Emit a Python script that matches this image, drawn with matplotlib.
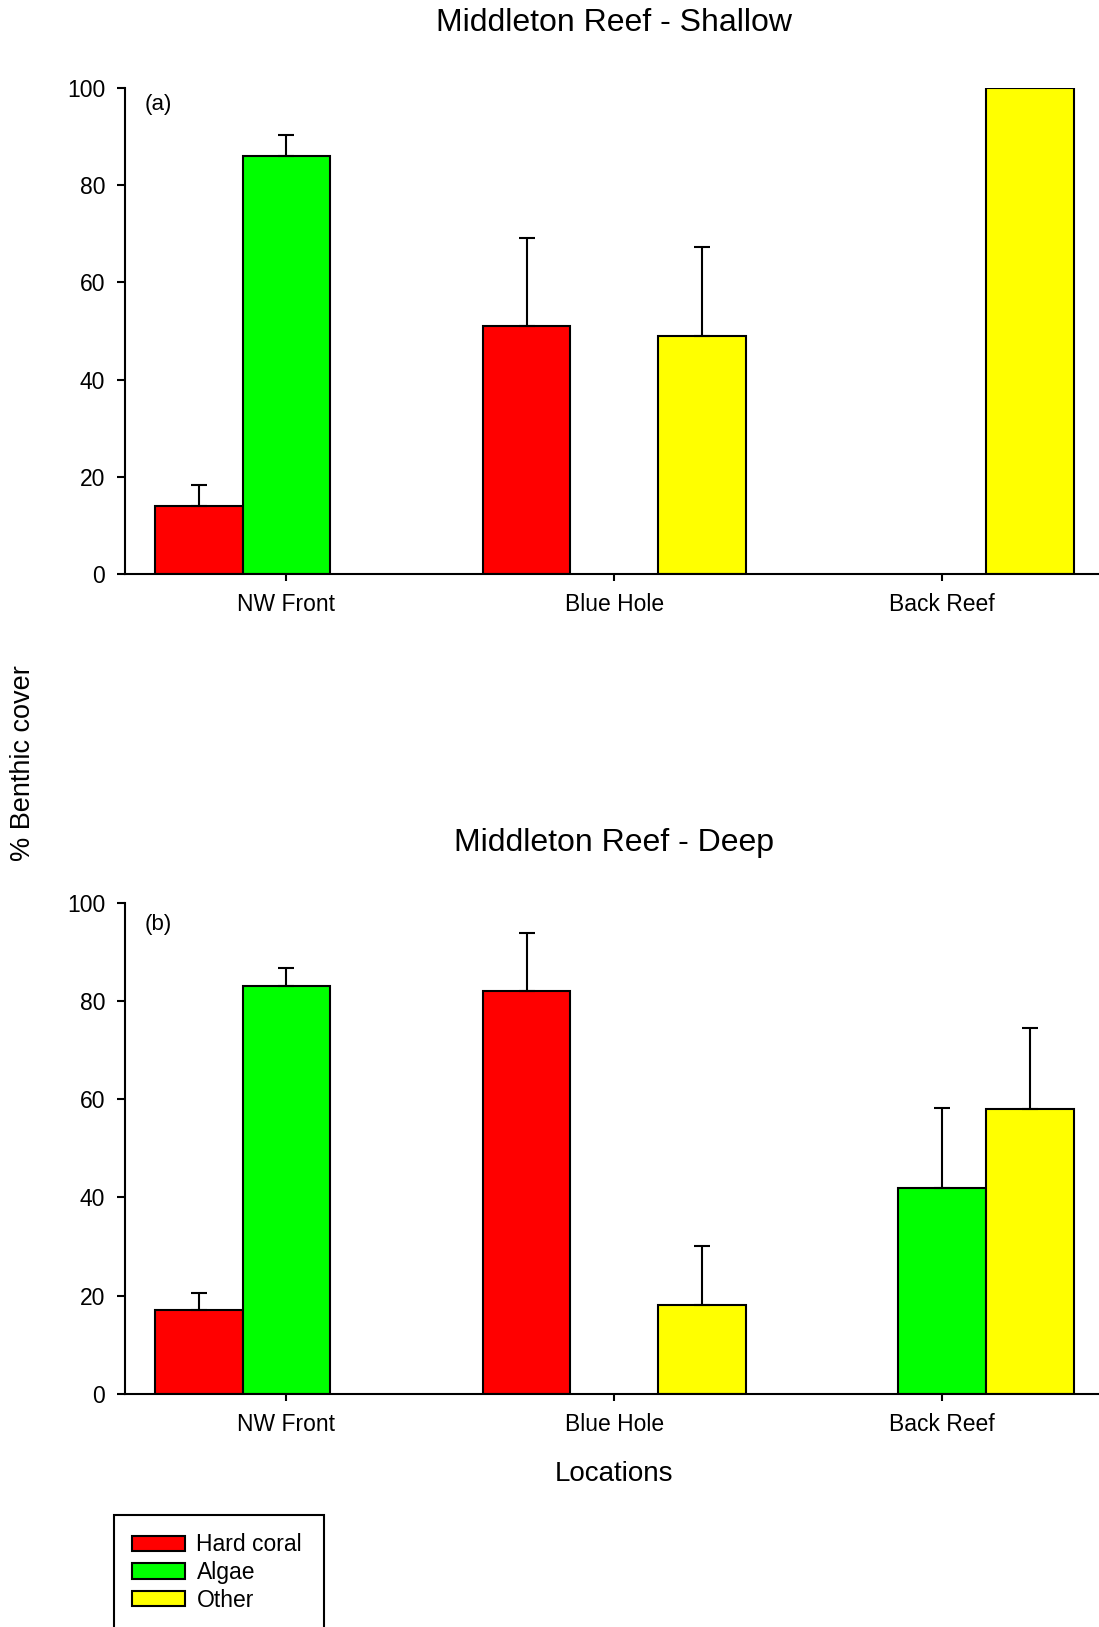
import numpy as np
import matplotlib
matplotlib.use('Agg')
import matplotlib.pyplot as plt
from matplotlib.patches import Patch, Rectangle

plt.rcParams['font.family'] = ['Liberation Sans', 'DejaVu Sans']

locations = ['NW Front', 'Blue Hole', 'Back Reef']
groups = ['Hard coral', 'Algae', 'Other']
colors = ['#ff0000', '#00ff00', '#ffff00']

# shallow sites: mean % cover and upper error
shallow_coral = [14, 51, 0]
shallow_algae = [86, 0, 0]
shallow_other = [0, 49, 100]
shallow_coral_err = [4.2, 18.2, 0]
shallow_algae_err = [4.3, 0, 0]
shallow_other_err = [0, 18.2, 0]

# deep sites
deep_coral = [17, 82, 0]
deep_algae = [83, 0, 42]
deep_other = [0, 18, 58]
deep_coral_err = [3.6, 11.8, 0]
deep_algae_err = [3.8, 0, 16.2]
deep_other_err = [0, 12.2, 16.5]

fig = plt.figure(figsize=(10.99, 16.27), dpi=100)
ax1 = fig.add_axes([0.1133, 0.6473, 0.8867, 0.2985])
ax2 = fig.add_axes([0.1133, 0.1433, 0.8867, 0.3018])

width = 0.268
x = np.arange(len(locations))


def draw_panel(ax, series, errors, tag, tag_y):
    for k, (vals, errs) in enumerate(zip(series, errors)):
        pos = x + (k - 1) * width
        for p, v, e in zip(pos, vals, errs):
            if v <= 0:
                continue
            ax.bar(p, v, width, color=colors[k], edgecolor='black', linewidth=1.5, zorder=2)
            if e > 0:
                ax.errorbar(p, v, yerr=[[0], [e]], fmt='none', ecolor='black',
                            elinewidth=1.5, capsize=6, capthick=1.5, zorder=3)
    ax.set_xlim(-0.494, 2.478)
    ax.set_ylim(0, 100)
    ax.set_yticks([0, 20, 40, 60, 80, 100])
    ax.set_xticks(x)
    ax.set_xticklabels(locations)
    for s in ['top', 'right']:
        ax.spines[s].set_visible(False)
    for s in ['left', 'bottom']:
        ax.spines[s].set_linewidth(1.5)
    ax.tick_params(axis='y', direction='out', length=6, width=1.5, labelsize=16.5, pad=8)
    ax.tick_params(axis='x', direction='out', length=5, width=1.5, labelsize=16.5, pad=9)
    ax.text(0.035, tag_y, tag, transform=ax.transAxes, ha='center', va='center', fontsize=16)


draw_panel(ax1, [shallow_coral, shallow_algae, shallow_other],
           [shallow_coral_err, shallow_algae_err, shallow_other_err], '(a)', 0.966)
draw_panel(ax2, [deep_coral, deep_algae, deep_other],
           [deep_coral_err, deep_algae_err, deep_other_err], '(b)', 0.956)

fig.text(0.559, 0.986, 'Middleton Reef - Shallow', ha='center', va='center', fontsize=23)
fig.text(0.559, 0.482, 'Middleton Reef - Deep', ha='center', va='center', fontsize=23)
fig.text(0.021, 0.5312, '% Benthic cover', rotation=90, ha='center', va='center', fontsize=19.5)
fig.text(0.559, 0.0942, 'Locations', ha='center', va='center', fontsize=20)

# legend box runs off the bottom edge, so draw its frame by hand
fig.add_artist(Rectangle((0.1037, -0.02), 0.1907, 0.0888, transform=fig.transFigure,
                         facecolor='white', edgecolor='black', linewidth=1.5, zorder=1))
handles = [Patch(facecolor=c, edgecolor='black', linewidth=1.5, label=g)
           for c, g in zip(colors, groups)]
leg = fig.legend(handles=handles, loc='upper left', bbox_to_anchor=(0.1037, 0.0688),
                 borderaxespad=0, fontsize=16.5, frameon=False,
                 handlelength=2.3, handleheight=0.65,
                 handletextpad=0.5, labelspacing=0.2, borderpad=0.8)
leg.set_zorder(2)

fig.savefig('out.png', dpi=100)
